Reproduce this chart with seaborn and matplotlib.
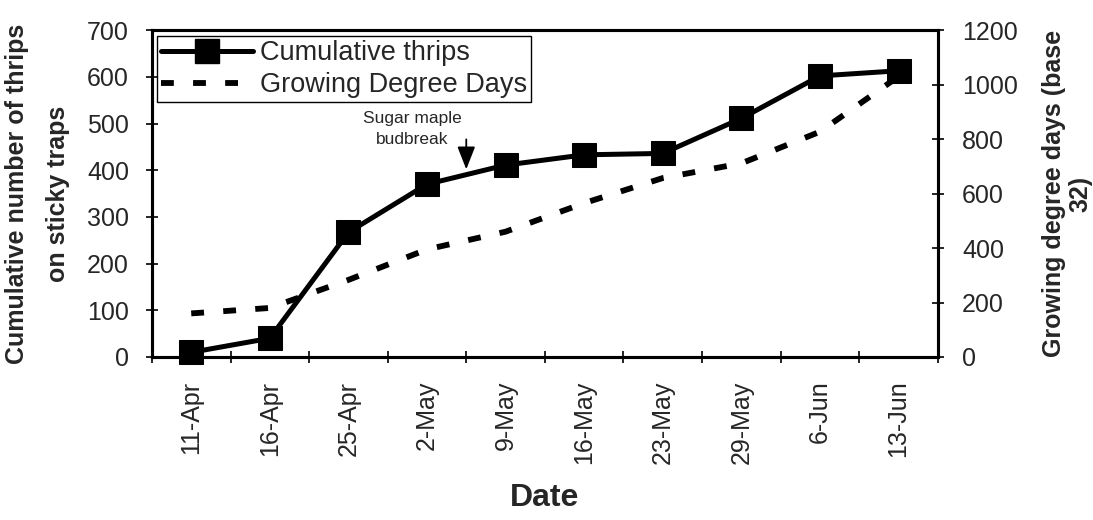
import matplotlib
matplotlib.use("Agg")
import matplotlib.pyplot as plt
import seaborn as sns
import pandas as pd
import numpy as np
from matplotlib.lines import Line2D
from matplotlib.ticker import FixedLocator

dates = ["11-Apr", "16-Apr", "25-Apr", "2-May", "9-May", "16-May",
         "23-May", "29-May", "6-Jun", "13-Jun"]
thrips = [10, 40, 267, 370, 411, 433, 436, 511, 602, 613]
gdd = [160, 180, 283, 395, 460, 565, 657, 711, 827, 1030]

sns.set_style("white")
plt.rcParams["font.family"] = ["Liberation Sans", "DejaVu Sans"]

df = pd.DataFrame({"pos": np.arange(len(dates)), "Date": dates,
                   "thrips": thrips, "gdd": gdd})

fig = plt.figure(figsize=(10.93, 5.2), dpi=100)
ax = fig.add_axes([0.139, 0.3135, 0.719, 0.6285])
ax2 = ax.twinx()

sns.lineplot(data=df, x="pos", y="thrips", ax=ax, color="black", lw=3.6,
             marker="s", markersize=17.5, markeredgecolor="black", sort=False,
             clip_on=False, zorder=5)
sns.lineplot(data=df, x="pos", y="gdd", ax=ax2, color="black", lw=4.2,
             sort=False)
line_g = ax2.get_lines()[0]
line_g.set_dashes((2.2, 3.3))
line_g.set_dash_capstyle("butt")

ax.set_xlim(-0.5, len(dates) - 0.5)
ax.set_ylim(0, 700)
ax2.set_ylim(0, 1200)
ax.set_yticks(np.arange(0, 701, 100))
ax2.set_yticks(np.arange(0, 1201, 200))
ax.set_xticks(np.arange(len(dates)))
ax.set_xticklabels(dates, rotation=90, fontsize=18)
ax.xaxis.set_minor_locator(FixedLocator(np.arange(-0.5, len(dates), 1.0)))
ax.tick_params(axis="x", which="major", length=0, pad=17)
ax.tick_params(axis="x", which="minor", length=9, width=1.2, direction="inout",
               bottom=True, color="black")
ax.tick_params(axis="y", length=9, width=1.2, direction="inout", labelsize=18,
               color="black", left=True, pad=12)
ax2.tick_params(axis="y", length=9, width=1.2, direction="inout", labelsize=18,
                color="black", right=True, pad=13)

for a in (ax, ax2):
    for s in a.spines.values():
        s.set_visible(True)
        s.set_color("black")
        s.set_linewidth(2.2)

ax.set_xlabel("Date", fontsize=23, fontweight="bold", labelpad=14)
ax.set_ylabel("Cumulative number of thrips\non sticky traps", fontsize=18,
              fontweight="bold", labelpad=12, linespacing=1.9)
ax2.set_ylabel("Growing degree days (base\n32)", fontsize=18,
               fontweight="bold", rotation=90, labelpad=17, linespacing=1.15)

ax.annotate("", xy=(3.5, 396), xytext=(3.5, 472),
            arrowprops=dict(arrowstyle="-|>,head_length=1.4,head_width=0.55",
                            color="black", lw=1.3))
ax.text(2.81, 488, "Sugar maple\nbudbreak", ha="center", va="center",
        fontsize=12.5, linespacing=1.45)

handles = [Line2D([], [], color="black", lw=3.6, marker="s", markersize=17.5),
           Line2D([], [], color="black", lw=4.2, dashes=(2.2, 3.3))]
leg = ax.legend(handles, ["Cumulative thrips", "Growing Degree Days"],
                loc="upper left", bbox_to_anchor=(0.003, 0.99), fontsize=19.5,
                frameon=True, fancybox=False, framealpha=1, edgecolor="black",
                handlelength=3.4, handletextpad=0.25, borderpad=0.15,
                labelspacing=0.22, borderaxespad=0.1)
leg.get_frame().set_linewidth(1.0)
leg.set_zorder(10)
ax.set_zorder(ax2.get_zorder() + 1)
ax.patch.set_visible(False)

fig.savefig("out.png", dpi=100)
